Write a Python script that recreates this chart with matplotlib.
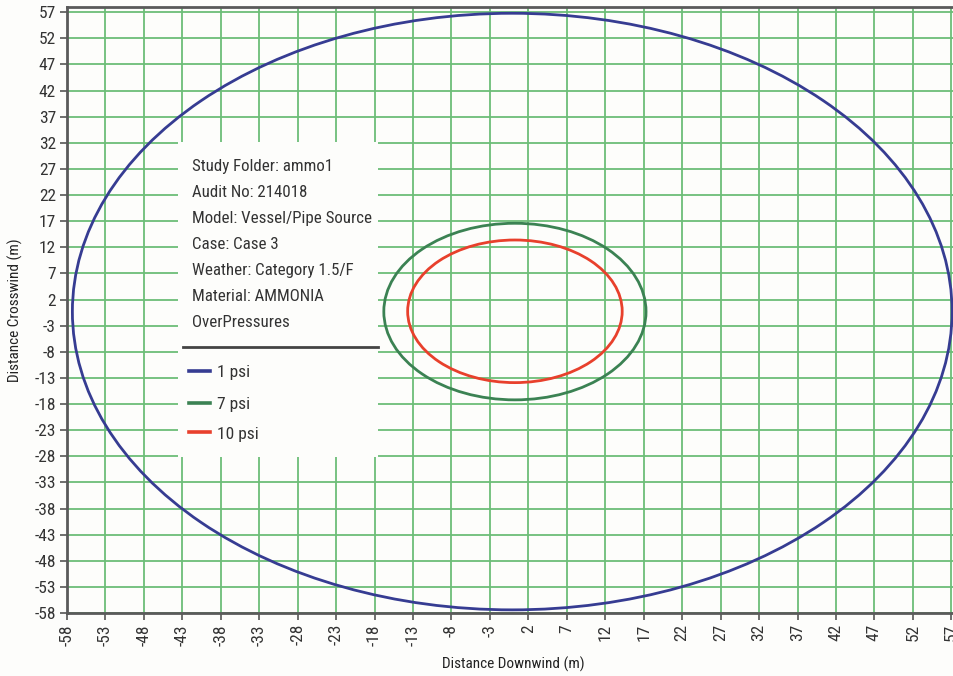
import matplotlib
matplotlib.use("Agg")
import matplotlib.pyplot as plt
from matplotlib.patches import Ellipse, Rectangle
from matplotlib.lines import Line2D
from matplotlib import font_manager

# Overpressure contour extents (m)
levels = ["1 psi", "7 psi", "10 psi"]
downwind_min = [-57.3, -16.8, -13.7]
downwind_max = [57.1, 17.3, 14.2]
crosswind_min = [-57.4, -17.2, -13.9]
crosswind_max = [56.8, 16.6, 13.4]
level_colors = ["#363c92", "#3b8253", "#e8402c"]

x_ticks = list(range(-58, 58, 5))
y_ticks = list(range(-58, 58, 5))

info_lines = [
    "Study Folder: ammo1",
    "Audit No: 214018",
    "Model: Vessel/Pipe Source",
    "Case: Case 3",
    "Weather: Category 1.5/F",
    "Material: AMMONIA",
    "OverPressures",
]

available = {f.name for f in font_manager.fontManager.ttflist}
preferred = ["Arial Narrow", "Liberation Sans Narrow", "Roboto Condensed",
             "PT Sans Narrow", "Archivo Narrow", "Open Sans Condensed", "Liberation Sans"]
family = next(f for f in preferred if f in available)
plt.rcParams["font.family"] = [family, "DejaVu Sans"]

W, H = 954, 676
fig = plt.figure(figsize=(W / 100, H / 100), dpi=100)
fig.patch.set_facecolor("#fdfdfb")

def fx(px):
    return px / W

def fy(py):
    return 1 - py / H

ax = fig.add_axes([fx(67), fy(613), fx(959) - fx(67), fy(7) - fy(613)])
ax.set_facecolor("#fdfdfb")
ax.set_xlim(-58, 58)
ax.set_ylim(-58, 58)
ax.set_xticks(x_ticks)
ax.set_yticks(y_ticks)
ax.set_xticklabels([str(v) for v in x_ticks], rotation=90, fontsize=12.5, color="#333333")
ax.set_yticklabels([str(v) for v in y_ticks], fontsize=12.5, color="#333333")
ax.tick_params(length=5, width=1.2, color="#555555", pad=3)
ax.grid(True, color="#6cbd78", linewidth=1.3, zorder=0)
ax.set_axisbelow(True)
for side in ["left", "bottom", "top"]:
    ax.spines[side].set_color("#5a5a5a")
    ax.spines[side].set_linewidth(2)
ax.spines["right"].set_visible(False)

ax.set_xlabel("Distance Downwind (m)", fontsize=11, color="#222222", labelpad=8)
ax.set_ylabel("Distance Crosswind (m)", fontsize=11, color="#222222", labelpad=8)

for lo_x, hi_x, lo_y, hi_y, c in zip(downwind_min, downwind_max,
                                      crosswind_min, crosswind_max, level_colors):
    ax.add_patch(Ellipse(((lo_x + hi_x) / 2, (lo_y + hi_y) / 2),
                         hi_x - lo_x, hi_y - lo_y,
                         fill=False, edgecolor=c, linewidth=2, zorder=3))

# Study info / legend panel
fig.add_artist(Rectangle((fx(178), fy(457)), fx(378) - fx(178), fy(142) - fy(457),
                         transform=fig.transFigure, facecolor="#fdfdfb",
                         edgecolor="none", zorder=5))
for i, line in enumerate(info_lines):
    fig.text(fx(192), fy(166 + i * 26.1), line, fontsize=12.2, color="#333333",
             va="center", ha="left", zorder=6)
fig.add_artist(Line2D([fx(183), fx(378)], [fy(347), fy(347)],
                      transform=fig.transFigure, color="#444444", linewidth=2, zorder=6))
entry_y = [371, 403, 432]
for lbl, c, py in zip(levels, level_colors, entry_y):
    fig.add_artist(Line2D([fx(189), fx(210)], [fy(py), fy(py)],
                          transform=fig.transFigure, color=c, linewidth=2.6, zorder=6))
    fig.text(fx(217), fy(py + 2), lbl, fontsize=12.5, color="#333333",
             va="center", ha="left", zorder=6)

fig.savefig("out.png", dpi=100, facecolor=fig.get_facecolor())
